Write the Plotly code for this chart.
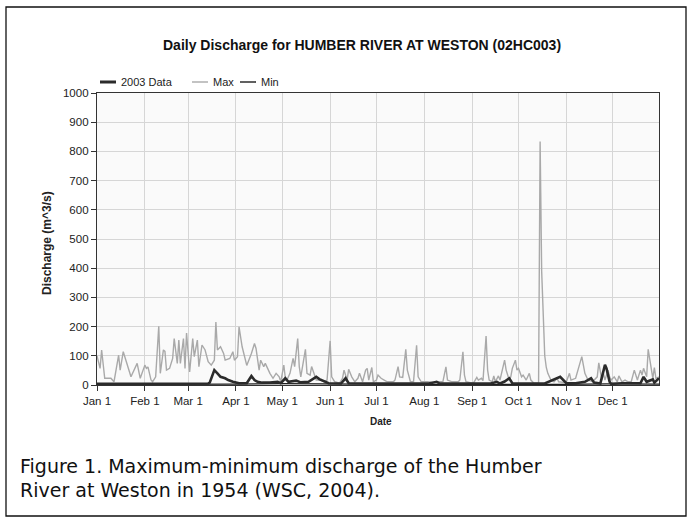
import pandas as pd
import plotly.graph_objects as go

# ---------------- data (day index from Jan 1, value in m^3/s) ----------------
max_day = [0, 2, 3, 5, 9, 11, 14, 15, 17, 20, 22, 26, 28, 31, 32, 33, 35, 36, 38, 40, 41, 43, 44, 45, 47,
           49, 50, 52, 53, 54, 56, 57, 58, 60, 62, 63, 65, 66, 68, 70, 72, 74, 76, 77, 78, 80, 82, 83, 86,
           88, 89, 91, 92, 94, 96, 97, 100, 102, 103, 105, 106, 108, 109, 111, 112, 114, 116, 118, 119, 121,
           122, 123, 125, 127, 128, 130, 131, 132, 135, 136, 138, 139, 141, 142, 145, 147, 149, 151, 152,
           154, 157, 159, 160, 162, 163, 165, 167, 169, 170, 172, 174, 175, 176, 178, 179, 181, 182, 184,
           186, 188, 192, 193, 195, 196, 198, 200, 201, 203, 205, 207, 208, 210, 214, 218, 221, 224, 226,
           227, 230, 234, 235, 237, 238, 239, 243, 244, 246, 247, 249, 250, 252, 253, 254, 256, 257, 258,
           260, 261, 264, 265, 267, 268, 269, 271, 272, 273, 275, 276, 278, 280, 281, 283, 286, 287, 288,
           289, 290, 291, 292, 294, 296, 298, 299, 302, 304, 306, 307, 310, 312, 314, 316, 318, 321, 324,
           325, 327, 328, 329, 331, 332, 333, 335, 337, 338, 340, 342, 344, 346, 348, 350, 352, 353, 354,
           356, 357, 359, 360, 361, 362, 364]
max_q = [100, 57, 120, 23, 23, 11, 102, 51, 114, 57, 28, 74, 23, 68, 57, 62, 17, 11, 28, 201, 40, 120, 115, 51, 57,
         91, 159, 74, 154, 74, 159, 57, 178, 45, 159, 97, 154, 63, 137, 120, 80, 68, 85, 216, 120, 131, 108, 85, 91,
         114, 85, 97, 199, 131, 80, 67, 108, 142, 125, 51, 85, 63, 74, 51, 40, 23, 40, 28, 11, 68,
         23, 17, 40, 91, 63, 159, 63, 28, 122, 40, 34, 63, 28, 17, 17, 11, 17, 151, 28,
         11, 6, 23, 51, 17, 54, 28, 11, 23, 40, 11, 51, 57, 17, 60, 11, 17, 34, 23,
         17, 11, 11, 17, 63, 28, 26, 122, 51, 11, 11, 136, 28, 11, 11, 9, 11, 11, 62,
         17, 11, 11, 17, 114, 34, 11, 6, 8, 26, 17, 23, 15, 168, 51, 17, 11, 31, 11,
         31, 17, 85, 51, 17, 28, 57, 85, 51, 57, 28, 34, 17, 40, 17, 6, 6, 834, 390,
         200, 100, 60, 40, 17, 11, 23, 11, 9, 11, 40, 17, 23, 57, 97, 40, 17, 11, 28,
         76, 17, 40, 17, 51, 28, 17, 28, 11, 31, 11, 17, 11, 11, 51, 17, 51, 34, 57,
         28, 122, 63, 23, 60, 23, 28]

data_day = [0, 20, 40, 60, 72, 73, 76, 78, 80, 83, 85, 88, 92, 97, 100, 102, 104, 107, 112, 117, 119, 122,
            124, 129, 132, 137, 142, 144, 146, 150, 158, 161, 163, 175, 200, 215, 220, 222, 240, 255, 259,
            261, 264, 267, 269, 290, 300, 302, 304, 310, 316, 320, 322, 326, 329, 330, 332, 333, 340, 352,
            354, 356, 360, 361, 364]
data_q = [4, 4, 3, 4, 5, 8, 51, 40, 28, 23, 17, 11, 6, 6, 31, 17, 11, 8, 8, 11, 6, 23,
          11, 15, 9, 11, 28, 20, 15, 6, 5, 23, 6, 5, 5, 5, 11, 5, 5, 5, 11,
          5, 12, 23, 6, 5, 28, 17, 6, 6, 11, 23, 8, 5, 69, 57, 11, 4, 6, 6,
          28, 11, 19, 8, 23]

min_day = [0, 70, 90, 120, 150, 200, 300, 330, 364]
min_q = [2, 2, 3, 5, 3, 2, 2, 4, 3]

tick_dates = ["2003-01-01", "2003-02-01", "2003-03-01", "2003-04-01", "2003-05-01", "2003-06-01",
              "2003-07-01", "2003-08-01", "2003-09-01", "2003-10-01", "2003-11-01", "2003-12-01"]
tick_text = ["Jan 1", "Feb 1", "Mar 1", "Apr 1", "May 1", "Jun 1",
             "Jul 1", "Aug 1", "Sep 1", "Oct 1", "Nov 1", "Dec 1"]
y_ticks = [0, 100, 200, 300, 400, 500, 600, 700, 800, 900, 1000]

series_names = ["2003 Data", "Max", "Min"]

# -----------------------------------------------------------------------------
start = pd.Timestamp("2003-01-01")
def to_dates(days):
    return start + pd.to_timedelta(days, unit="D")

W, H = 691, 523
L, R, T, B = 97, 659, 93, 385
pw, ph = R - L, B - T
def px(x):
    return (x - L) / pw
def py(y):
    return (B - y) / ph

c_data = "#2b2b2b"
c_max = "#a9a9a9"
c_min = "#1e1e1e"

fig = go.Figure()
fig.add_trace(go.Scatter(x=to_dates(max_day), y=max_q, mode="lines", name=series_names[1],
                         line=dict(color=c_max, width=1.4), showlegend=False))
fig.add_trace(go.Scatter(x=to_dates(min_day), y=min_q, mode="lines", name=series_names[2],
                         line=dict(color=c_min, width=1.3), showlegend=False))
fig.add_trace(go.Scatter(x=to_dates(data_day), y=data_q, mode="lines", name=series_names[0],
                         line=dict(color=c_data, width=2.6), showlegend=False))

font_main = "Liberation Sans, Arial, sans-serif"
font_cap = "DejaVu Sans, Liberation Sans, sans-serif"

shapes = [
    # outer frame
    dict(type="rect", xref="paper", yref="paper", x0=px(6), x1=px(686), y0=py(516), y1=py(7),
         line=dict(color="#111111", width=1.3), fillcolor="rgba(0,0,0,0)", layer="below"),
    # manual legend samples
    dict(type="line", xref="paper", yref="paper", x0=px(100), x1=px(116), y0=py(82), y1=py(82),
         line=dict(color=c_data, width=3)),
    dict(type="line", xref="paper", yref="paper", x0=px(192), x1=px(208), y0=py(82), y1=py(82),
         line=dict(color=c_max, width=1.4)),
    dict(type="line", xref="paper", yref="paper", x0=px(240), x1=px(256), y0=py(82), y1=py(82),
         line=dict(color=c_min, width=1.4)),
]

annotations = [
    dict(text="<b>Daily Discharge for HUMBER RIVER AT WESTON (02HC003)</b>", x=px(362), y=py(45),
         xref="paper", yref="paper", showarrow=False, xanchor="center", yanchor="middle",
         font=dict(size=14, color="#111111", family=font_main)),
    dict(text=series_names[0], x=px(119), y=py(82), xref="paper", yref="paper", showarrow=False,
         xanchor="left", yanchor="middle", font=dict(size=11, color="#222222", family=font_main)),
    dict(text=series_names[1], x=px(211), y=py(82), xref="paper", yref="paper", showarrow=False,
         xanchor="left", yanchor="middle", font=dict(size=11, color="#222222", family=font_main)),
    dict(text=series_names[2], x=px(259), y=py(82), xref="paper", yref="paper", showarrow=False,
         xanchor="left", yanchor="middle", font=dict(size=11, color="#222222", family=font_main)),
    dict(text="<b>Discharge (m^3/s)</b>", x=px(47), y=py(243), xref="paper", yref="paper",
         showarrow=False, textangle=-90, xanchor="center", yanchor="middle",
         font=dict(size=12, color="#222222", family=font_main)),
    dict(text="<b>Date</b>", x=px(381), y=py(421), xref="paper", yref="paper", showarrow=False,
         xanchor="center", yanchor="middle", font=dict(size=10, color="#222222", family=font_main)),
    dict(text="Figure 1. Maximum-minimum discharge of the Humber", x=px(18), y=py(466),
         xref="paper", yref="paper", showarrow=False, xanchor="left", yanchor="middle",
         font=dict(size=19, color="#111111", family=font_cap)),
    dict(text="River at Weston in 1954 (WSC, 2004).", x=px(18), y=py(490),
         xref="paper", yref="paper", showarrow=False, xanchor="left", yanchor="middle",
         font=dict(size=19, color="#111111", family=font_cap)),
]

fig.update_layout(
    width=W, height=H,
    margin=dict(l=L, r=W - R, t=T, b=H - B, pad=0),
    paper_bgcolor="white", plot_bgcolor="#fafafa",
    showlegend=False,
    shapes=shapes, annotations=annotations,
    font=dict(family=font_main, size=11, color="#222222"),
)
fig.update_xaxes(range=[start, pd.Timestamp("2003-12-31")], tickmode="array",
                 tickvals=tick_dates, ticktext=tick_text, ticks="outside", ticklen=5,
                 tickcolor="#333333", showline=True, linecolor="#333333", linewidth=1.3,
                 mirror=True, showgrid=True, gridcolor="#d6d6d6", gridwidth=1, zeroline=False,
                 tickfont=dict(size=11.5, color="#222222"))
fig.update_yaxes(range=[0, 1000], tickmode="array", tickvals=y_ticks, ticks="outside", ticklen=5,
                 tickcolor="#333333", showline=True, linecolor="#333333", linewidth=1.3,
                 mirror=True, showgrid=True, gridcolor="#d6d6d6", gridwidth=1, zeroline=False,
                 tickfont=dict(size=11.5, color="#222222"))

fig.write_html("out.html", config={"displayModeBar": False},
               post_script="document.body.style.margin='0px';document.body.style.overflow='hidden';")
